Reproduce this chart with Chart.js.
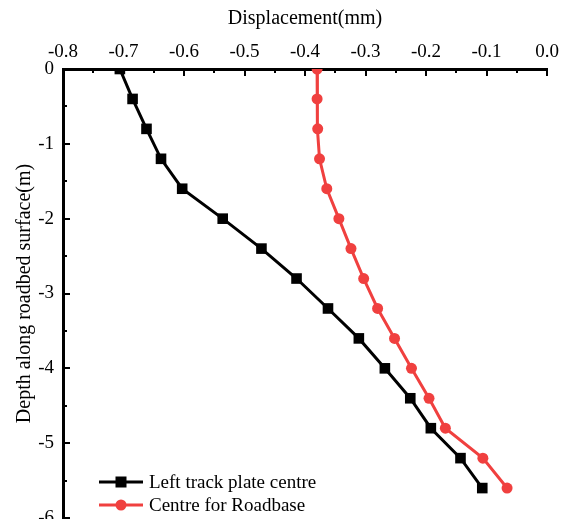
<!DOCTYPE html>
<html>
<head>
<meta charset="utf-8">
<script src="https://cdn.jsdelivr.net/npm/chart.js@4/dist/chart.umd.min.js"></script>
<style>
  html, body { margin: 0; padding: 0; background: #ffffff; overflow: hidden; }
  #wrap { width: 570px; height: 560px; }
</style>
</head>
<body>
<div id="wrap"><canvas id="c" width="570" height="560"></canvas></div>
<script>
// ---- data ----
const depths = [0, -0.4, -0.8, -1.2, -1.6, -2.0, -2.4, -2.8, -3.2, -3.6, -4.0, -4.4, -4.8, -5.2, -5.6];
const leftTrackPlateCentre = [-0.706, -0.685, -0.662, -0.638, -0.603, -0.536, -0.472, -0.414, -0.362, -0.311, -0.268, -0.226, -0.192, -0.143, -0.107];
const centreForRoadbase = [-0.380, -0.380, -0.379, -0.376, -0.364, -0.344, -0.324, -0.303, -0.280, -0.252, -0.224, -0.195, -0.168, -0.106, -0.066];
const seriesLabels = ['Left track plate centre', 'Centre for Roadbase'];
const xTitle = 'Displacement(mm)';
const yTitle = 'Depth along roadbed surface(m)';
const xTickMin = -0.8, xTickMax = 0, xTickStep = 0.1;
const yTickMin = -6, yTickMax = 0, yTickStep = 1;

const BLACK = '#000000';
const RED = '#F0403F';
const FONT = '"Liberation Serif", "Times New Roman", serif';

function toPoints(xs, ys) { return xs.map((x, i) => ({ x: x, y: ys[i] })); }

// inward tick marks, drawn through the scales
const inwardTicks = {
  id: 'inwardTicks',
  afterDraw(chart) {
    const ctx = chart.ctx;
    const xs = chart.scales.x, ys = chart.scales.y;
    const top = chart.chartArea.top, left = chart.chartArea.left;
    ctx.save();
    ctx.strokeStyle = BLACK;
    ctx.lineWidth = 2;
    const nx = Math.round((xTickMax - xTickMin) / (xTickStep / 2));
    for (let i = 0; i <= nx; i++) {
      const v = xTickMin + i * xTickStep / 2;
      const px = Math.round(xs.getPixelForValue(v));
      const len = (i % 2 === 0) ? 7 : 4;
      ctx.beginPath(); ctx.moveTo(px, top); ctx.lineTo(px, top + len); ctx.stroke();
    }
    const ny = Math.round((yTickMax - yTickMin) / (yTickStep / 2));
    for (let i = 0; i <= ny; i++) {
      const v = yTickMax - i * yTickStep / 2;
      const py = Math.round(ys.getPixelForValue(v));
      const len = (i % 2 === 0) ? 7 : 4;
      ctx.beginPath(); ctx.moveTo(left, py); ctx.lineTo(left + len, py); ctx.stroke();
    }
    ctx.restore();
  }
};

// legend with line + marker samples
const lineLegend = {
  id: 'lineLegend',
  afterDraw(chart) {
    const ctx = chart.ctx;
    const ds = chart.data.datasets;
    const x0 = 99, x1 = 143, tx = 149;
    const rows = [482, 505];
    ctx.save();
    ds.forEach((d, i) => {
      const y = rows[i];
      ctx.strokeStyle = d.borderColor;
      ctx.lineWidth = 3;
      ctx.beginPath(); ctx.moveTo(x0, y); ctx.lineTo(x1, y); ctx.stroke();
      ctx.fillStyle = d.pointBackgroundColor;
      const cx = (x0 + x1) / 2;
      if (d.pointStyle === 'rect') {
        ctx.fillRect(cx - 5.5, y - 5.5, 11, 11);
      } else {
        ctx.beginPath(); ctx.arc(cx, y, 5.5, 0, Math.PI * 2); ctx.fill();
      }
      ctx.fillStyle = BLACK;
      ctx.font = '19px ' + FONT;
      ctx.textBaseline = 'middle';
      ctx.textAlign = 'left';
      ctx.fillText(d.label, tx, y + 1);
    });
    ctx.restore();
  }
};

new Chart(document.getElementById('c'), {
  type: 'scatter',
  data: {
    datasets: [
      {
        label: seriesLabels[0],
        data: toPoints(leftTrackPlateCentre, depths),
        showLine: true,
        borderColor: BLACK,
        backgroundColor: BLACK,
        pointBackgroundColor: BLACK,
        pointBorderColor: BLACK,
        borderWidth: 3,
        pointStyle: 'rect',
        pointRadius: 7.5,
        pointBorderWidth: 0,
        clip: 0
      },
      {
        label: seriesLabels[1],
        data: toPoints(centreForRoadbase, depths),
        showLine: true,
        borderColor: RED,
        backgroundColor: RED,
        pointBackgroundColor: RED,
        pointBorderColor: RED,
        borderWidth: 3,
        pointStyle: 'circle',
        pointRadius: 5.5,
        pointBorderWidth: 0,
        clip: 0
      }
    ]
  },
  options: {
    responsive: false,
    animation: false,
    devicePixelRatio: 1,
    events: [],
    layout: { padding: { left: 0, top: 0, right: 23, bottom: 42 } },
    plugins: {
      legend: { display: false },
      tooltip: { enabled: false }
    },
    scales: {
      x: {
        type: 'linear',
        position: 'top',
        min: xTickMin, max: xTickMax,
        grid: { display: false, drawTicks: false, tickLength: 0 },
        border: { display: true, color: BLACK, width: 3 },
        ticks: {
          stepSize: xTickStep,
          padding: 6,
          color: BLACK,
          font: { family: FONT, size: 19 },
          maxRotation: 0,
          callback: v => (Math.abs(v) < 1e-9 ? 0 : v).toFixed(1)
        },
        title: {
          display: true, text: xTitle, color: BLACK,
          font: { family: FONT, size: 20 },
          padding: { top: 7, bottom: 0 }
        },
        afterFit: s => { s.height = 69; }
      },
      y: {
        type: 'linear',
        position: 'left',
        min: yTickMin, max: yTickMax,
        grid: { display: false, drawTicks: false, tickLength: 0 },
        border: { display: true, color: BLACK, width: 3 },
        ticks: {
          stepSize: yTickStep,
          padding: 9,
          color: BLACK,
          font: { family: FONT, size: 19 },
          callback: v => String(Math.round(v))
        },
        title: {
          display: true, text: yTitle, color: BLACK,
          font: { family: FONT, size: 20 },
          padding: { top: 13, bottom: 0 }
        },
        afterFit: s => { s.width = 63; }
      }
    }
  },
  plugins: [inwardTicks, lineLegend]
});
</script>
</body>
</html>
